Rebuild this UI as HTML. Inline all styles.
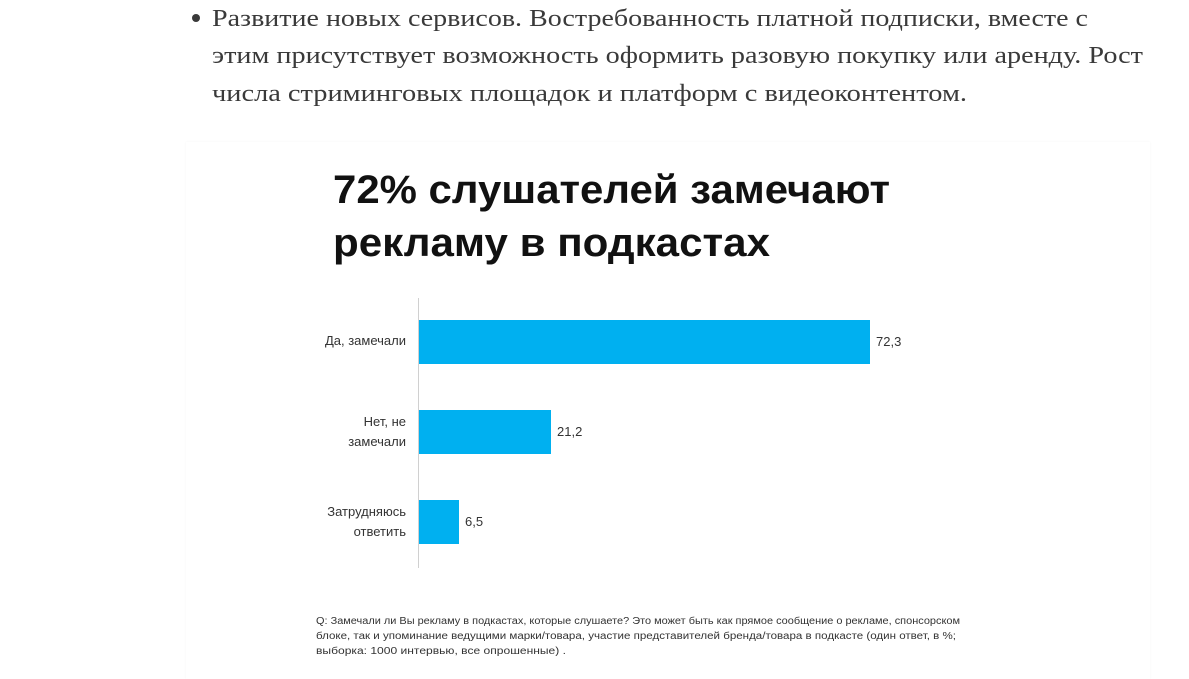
<!DOCTYPE html>
<html><head><meta charset="utf-8"><style>
html,body{margin:0;padding:0;width:1189px;height:679px;overflow:hidden;background:#fff;}
svg{position:absolute;left:0;top:0;}
.lab{position:absolute;width:110px;left:296px;text-align:right;font-family:"Liberation Sans",sans-serif;font-size:13px;line-height:20px;color:#333;}
.bar{position:absolute;left:419px;background:#00b0f0;height:44px;}
.v{position:absolute;font-family:"Liberation Sans",sans-serif;font-size:13px;color:#333;}
.ax{position:absolute;left:418px;top:298px;width:1px;height:270px;background:#d0d0d0;}
.box{position:absolute;left:186px;top:142px;width:964px;height:537px;background:#fff;box-shadow:0 0 2px rgba(0,0,0,0.04);}
</style></head><body>
<div class="box"></div>
<svg width="1189" height="679">
<circle cx="196" cy="18" r="4" fill="#3a3a3a"/>
<g font-family="Liberation Serif, DejaVu Serif, serif" font-size="24" fill="#3a3a3a" lengthAdjust="spacingAndGlyphs">
<text x="212" y="26" textLength="876" lengthAdjust="spacingAndGlyphs">Развитие новых сервисов. Востребованность платной подписки, вместе с</text>
<text x="212" y="63" textLength="931" lengthAdjust="spacingAndGlyphs">этим присутствует возможность оформить разовую покупку или аренду. Рост</text>
<text x="212" y="101" textLength="755" lengthAdjust="spacingAndGlyphs">числа стриминговых площадок и платформ с видеоконтентом.</text>
</g>
<g font-family="Liberation Sans, sans-serif" font-weight="bold" font-size="40" fill="#111">
<text x="333" y="203" textLength="557" lengthAdjust="spacingAndGlyphs">72% слушателей замечают</text>
<text x="333" y="256" textLength="437" lengthAdjust="spacingAndGlyphs">рекламу в подкастах</text>
</g>
<g font-family="Liberation Sans, sans-serif" font-size="10" fill="#333">
<text x="316" y="624" textLength="644" lengthAdjust="spacingAndGlyphs">Q: Замечали ли Вы рекламу в подкастах, которые слушаете? Это может быть как прямое сообщение о рекламе, спонсорском</text>
<text x="316" y="639" textLength="640" lengthAdjust="spacingAndGlyphs">блоке, так и упоминание ведущими марки/товара, участие представителей бренда/товара в подкасте (один ответ, в %;</text>
<text x="316" y="654" textLength="250" lengthAdjust="spacingAndGlyphs">выборка: 1000 интервью, все опрошенные) .</text>
</g>
</svg>
<div class="ax"></div>
<div class="lab" style="top:331px">Да, замечали</div>
<div class="lab" style="top:412px">Нет, не<br>замечали</div>
<div class="lab" style="top:502px">Затрудняюсь<br>ответить</div>
<div class="bar" style="top:320px;width:451px"></div>
<div class="bar" style="top:410px;width:132px"></div>
<div class="bar" style="top:500px;width:40px"></div>
<div class="v" style="left:876px;top:334px">72,3</div>
<div class="v" style="left:557px;top:424px">21,2</div>
<div class="v" style="left:465px;top:514px">6,5</div>
</body></html>
